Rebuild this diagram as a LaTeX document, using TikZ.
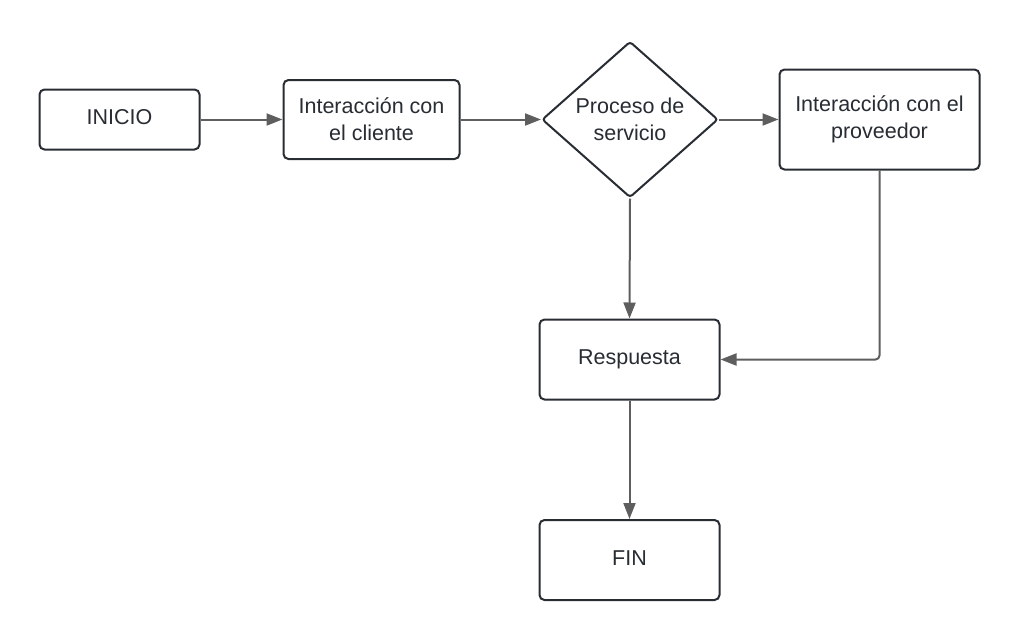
\documentclass[tikz,border=0pt]{standalone}
\usepackage{fontspec}
\setmainfont{Liberation Sans}
\usetikzlibrary{shapes.geometric,arrows.meta}
\definecolor{boxline}{HTML}{282C33}
\definecolor{conn}{HTML}{5E5E5E}
\definecolor{txt}{HTML}{282C33}
\begin{document}
\begin{tikzpicture}[x=1pt,y=-1pt,
  box/.style={draw=boxline, line width=2pt, rounded corners=5pt, fill=white,
    text=txt, align=center, inner sep=0pt, font=\fontsize{21.5}{27}\selectfont},
  onel/.style={text height=16pt, text depth=6pt},
  decision/.style={draw=boxline, line width=2pt, diamond, aspect=1.13, rounded corners=3pt,
    inner sep=0pt, fill=white, text=txt, align=center, font=\fontsize{21.5}{27}\selectfont},
  conn/.style={draw=conn, line width=2pt, -{Triangle[length=16pt,width=12pt]}}]
\useasboundingbox (0,0) rectangle (1020,640);
\node[box, onel, minimum width=160pt, minimum height=60pt] (inicio) at (119.5,119.5) {INICIO};
\node[box, minimum width=176pt, minimum height=79pt] (cliente) at (371.5,119.5) {Interacción con\\el cliente};
\node[decision, minimum width=176pt, minimum height=156pt] (proceso) at (630,119.5) {Proceso de\\servicio};
\node[box, minimum width=200pt, minimum height=100pt] (proveedor) at (879.5,119.5) {Interacción con el\\proveedor};
\node[box, onel, minimum width=180pt, minimum height=80pt] (respuesta) at (629.5,359.5) {Respuesta};
\node[box, onel, minimum width=180pt, minimum height=80pt] (fin) at (629.5,560) {FIN};
\draw[conn] (inicio) -- (cliente);
\draw[conn] (cliente) -- (proceso);
\draw[conn] (proceso) -- (proveedor);
\draw[conn] (proceso.south) -- (respuesta.north);
\draw[conn, rounded corners=4pt] (proveedor.south) |- (respuesta.east);
\draw[conn] (respuesta.south) -- (fin.north);
\end{tikzpicture}
\end{document}
